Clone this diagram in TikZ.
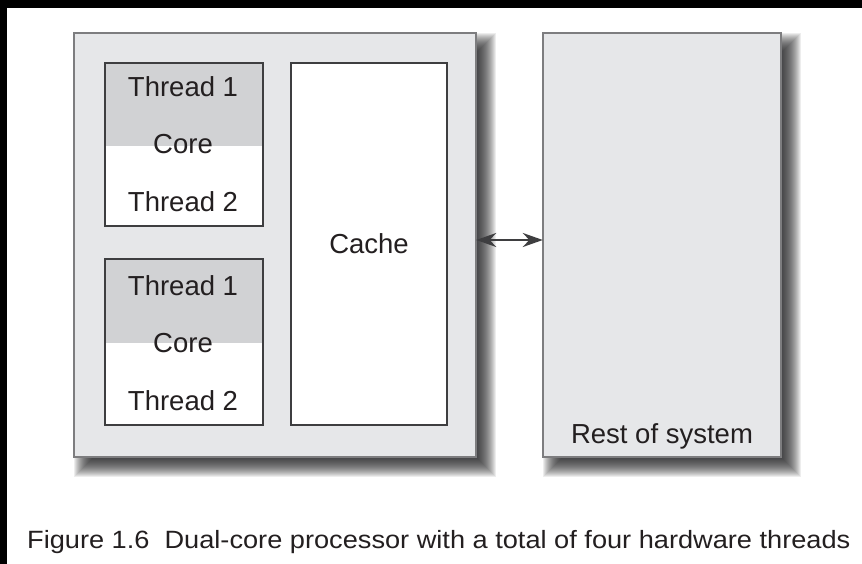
\documentclass[tikz,border=0pt]{standalone}
\usepackage{fontspec}
\setmainfont{Liberation Sans}
\usetikzlibrary{arrows.meta}
\definecolor{outerfill}{RGB}{230,231,233}
\definecolor{coretop}{RGB}{209,210,212}
\definecolor{outerline}{RGB}{125,125,127}
\definecolor{coreline}{RGB}{62,62,64}
\definecolor{txt}{RGB}{35,31,32}
\definecolor{shadowc}{RGB}{30,30,32}
\newcommand{\softshadow}[4]{% x1 y1 x2 y2 (top-left, bottom-right)
  \foreach \k in {0,...,20}{
    \pgfmathsetmacro{\e}{10-\k}
    \fill[shadowc,opacity=0.08]
      ({#1+10-\e},{#2+10-\e}) rectangle ({#3+10+\e},{#4+10+\e});
  }
}
\tikzset{
  lbl/.style={font=\fontsize{27.5}{30}\selectfont, text=txt, anchor=base, inner sep=0pt},
  outerbox/.style={draw=outerline, line width=2pt, fill=outerfill},
  corebox/.style={draw=coreline, line width=1.8pt},
  cachebox/.style={draw=coreline, line width=1.6pt, fill=white},
  conn/.style={draw=coreline, line width=2pt, {Stealth[length=20pt,width=14pt]}-{Stealth[length=20pt,width=14pt]}}
}
\begin{document}
\begin{tikzpicture}[x=1pt,y=-1pt]
\useasboundingbox (0,0) rectangle (862,564);
\fill[black] (0,0) rectangle (862,564);
\fill[white] (7,8) rectangle (862,564);
% shadows
\softshadow{74}{33}{476}{457}
\softshadow{543}{33}{781}{457}
% outer processor box
\draw[outerbox] (74,33) rectangle (476,457);
\node[inner sep=0pt, minimum width=402pt, minimum height=424pt] (proc) at (275,245) {};
% rest of system
\draw[outerbox] (543,33) rectangle (781,457);
\node[inner sep=0pt, minimum width=238pt, minimum height=424pt] (rest) at (662,245) {};
\node[lbl] (restlbl) at (662,443) {Rest of system};
% core 1
\fill[white] (105,63) rectangle (263,226);
\fill[coretop] (105,63) rectangle (263,146);
\draw[corebox] (105,63) rectangle (263,226);
\node[lbl] (c1t1) at (183,97) {Thread 1};
\node[lbl] (c1c) at (183,154) {Core};
\node[lbl] (c1t2) at (183,212) {Thread 2};
% core 2
\fill[white] (105,259) rectangle (263,425);
\fill[coretop] (105,259) rectangle (263,343);
\draw[corebox] (105,259) rectangle (263,425);
\node[lbl] (c2t1) at (183,295) {Thread 1};
\node[lbl] (c2c) at (183,352) {Core};
\node[lbl] (c2t2) at (183,410) {Thread 2};
% cache
\draw[cachebox] (291,63) rectangle (447,425);
\node[lbl] (cache) at (369,253) {Cache};
% connector
\coordinate (aL) at (proc.east |- 0,240);
\coordinate (aR) at (rest.west |- 0,240);
\draw[conn] (aL) -- (aR);
% caption
\node[anchor=base west, inner sep=0pt, text=txt, font=\fontsize{25}{28}\selectfont] (cap) at (27,548)
  {\scalebox{1.087}[1]{Figure 1.6\ \ Dual-core processor with a total of four hardware threads}};
\end{tikzpicture}
\end{document}
